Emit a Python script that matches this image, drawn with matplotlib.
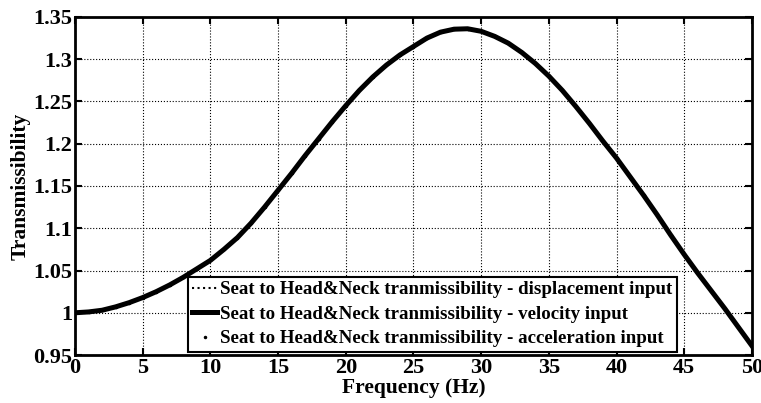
from matplotlib import pyplot as plt
from matplotlib.ticker import FuncFormatter
import numpy as np

plt.rcParams['font.family'] = ['Liberation Serif', 'DejaVu Serif']
plt.rcParams['font.weight'] = 'bold'

# values, 1 Hz steps
freq = list(range(0, 51))
trans = [1.000, 1.001, 1.003, 1.007, 1.012, 1.018, 1.025, 1.033, 1.042, 1.052,
         1.062, 1.075, 1.089, 1.106, 1.125, 1.145, 1.165, 1.186, 1.206, 1.226,
         1.245, 1.263, 1.279, 1.293, 1.305, 1.315, 1.325, 1.332, 1.3355, 1.336,
         1.333, 1.327, 1.319, 1.308, 1.295, 1.280, 1.263, 1.244, 1.224, 1.203,
         1.183, 1.161, 1.139, 1.116, 1.092, 1.069, 1.047, 1.026, 1.005, 0.983,
         0.961]

labels = ['Seat to Head&Neck tranmissibility - displacement input',
          'Seat to Head&Neck tranmissibility - velocity input',
          'Seat to Head&Neck tranmissibility - acceleration input']

xticks = [0, 5, 10, 15, 20, 25, 30, 35, 40, 45, 50]
yticks = [0.95, 1.0, 1.05, 1.1, 1.15, 1.2, 1.25, 1.3, 1.35]

fig = plt.figure(figsize=(7.61, 4.03), dpi=100)
ax = fig.add_axes([0.0986, 0.119, 0.8894, 0.839])

ax.plot(freq, trans, 'k:', linewidth=1.5, label=labels[0])
ax.plot(freq, trans, 'k-', linewidth=3.6, label=labels[1])
ax.plot(freq, trans, 'k.', markersize=3, label=labels[2])

ax.set_xlim(0, 50)
ax.set_ylim(0.95, 1.35)
ax.set_xticks(xticks)
ax.set_yticks(yticks)
ax.yaxis.set_major_formatter(FuncFormatter(lambda v, p: '%g' % round(v, 2)))

ax.tick_params(direction='in', top=True, right=True, length=5, width=1.5,
               labelsize=16, pad=2)
for s in ax.spines.values():
    s.set_linewidth(2)

ax.grid(True, color='black', linestyle=':', linewidth=0.8)

ax.set_xlabel('Frequency (Hz)', fontsize=15.5, fontweight='bold', labelpad=0)
ax.set_ylabel('Transmissibility', fontsize=15.5, fontweight='bold', labelpad=2)

leg = ax.legend(loc='lower right', bbox_to_anchor=(0.889, 0.009),
                borderaxespad=0, fontsize=13.6, fancybox=False, framealpha=1,
                edgecolor='black', handlelength=1.3, handletextpad=0.15,
                labelspacing=0.38, borderpad=0.25)
leg.get_frame().set_linewidth(1.5)

plt.savefig('out.png', dpi=100)
